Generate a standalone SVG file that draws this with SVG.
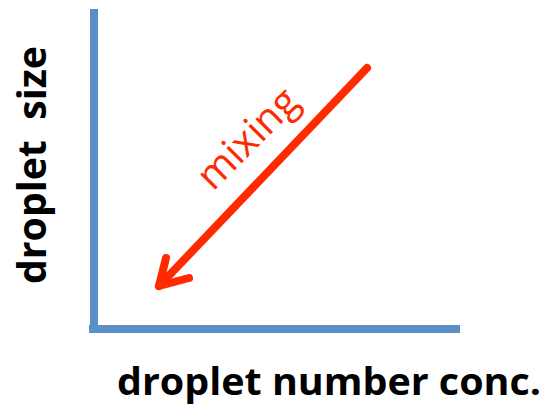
<svg xmlns="http://www.w3.org/2000/svg" width="548" height="406" viewBox="0 0 548 406">
<style>
.axis{stroke:#5b8fc7;stroke-width:8;fill:none}
.lbl{font-family:"Open Sans","Liberation Sans",sans-serif;font-weight:bold;fill:#000}
.arrow{stroke:#ff2a00;stroke-width:8;fill:none;stroke-linecap:round;stroke-linejoin:round}
.mix{font-family:"Open Sans","Liberation Sans",sans-serif;fill:#ff2a00}
</style>
<rect width="548" height="406" fill="#fff"/>
<g id="axes">
<line class="axis" x1="94" y1="9" x2="94" y2="333"/>
<line class="axis" x1="89" y1="329" x2="460" y2="329"/>
</g>
<g id="y-label"><text class="lbl" font-size="39" transform="translate(46,284) rotate(-90)" textLength="238" lengthAdjust="spacingAndGlyphs" xml:space="preserve">droplet  size</text></g>
<g id="x-label"><text class="lbl" font-size="38" x="117" y="395" textLength="424" lengthAdjust="spacingAndGlyphs">droplet number conc.</text></g>
<g id="connectors">
<line class="arrow" x1="367" y1="68" x2="159" y2="286"/>
<polyline class="arrow" points="166,258 159,286 189,278"/>
</g>
<g id="mixing-label"><text class="mix" font-size="40" text-anchor="middle" transform="translate(257,148) rotate(-45)">mixing</text></g>
</svg>
